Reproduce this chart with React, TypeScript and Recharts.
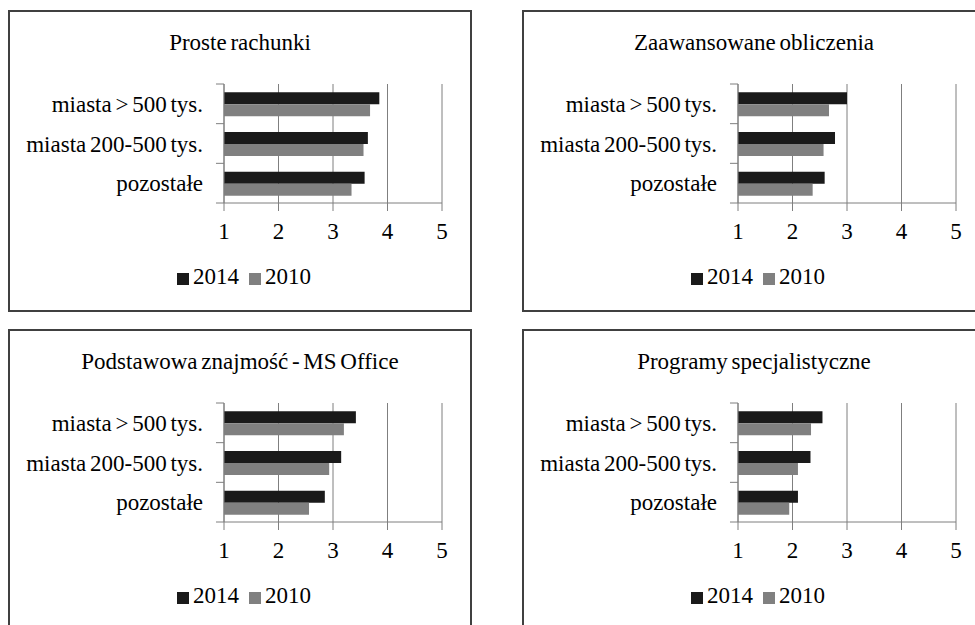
import React from 'react';
import { BarChart, Bar, XAxis, YAxis, CartesianGrid, Legend, ReferenceLine } from 'recharts';

const categories = ['miasta > 500 tys.', 'miasta 200-500 tys.', 'pozostałe'];
const seriesNames = ['2014', '2010'];
const xTicks = [1, 2, 3, 4, 5];

const titleProste = 'Proste rachunki';
const proste2014 = [3.85, 3.64, 3.58];
const proste2010 = [3.68, 3.56, 3.34];

const titleZaaw = 'Zaawansowane obliczenia';
const zaaw2014 = [3.0, 2.78, 2.59];
const zaaw2010 = [2.67, 2.57, 2.37];

const titleOffice = 'Podstawowa znajmość - MS Office';
const office2014 = [3.42, 3.15, 2.85];
const office2010 = [3.2, 2.93, 2.56];

const titleSpec = 'Programy specjalistyczne';
const spec2014 = [2.55, 2.33, 2.1];
const spec2010 = [2.34, 2.1, 1.94];

const FONT = "'Liberation Serif', 'Times New Roman', serif";
const FS = 23;
const AXIS = '#7f7f7f';
const W = 464;
const H = 302;

function Panel({ title, a, b, left, top }: { title: string; a: number[]; b: number[]; left: number; top: number }) {
  const data = categories.map((name, i) => ({ name, s2014: a[i], s2010: b[i] }));
  return (
    <div style={{ position: 'absolute', left, top, width: W, height: H }}>
      <div
        style={{
          position: 'absolute',
          left: 0,
          top: 0,
          width: W,
          height: H,
          border: '2px solid #404040',
          boxSizing: 'border-box',
        }}
      />
      <div
        style={{
          position: 'absolute',
          left: 0,
          top: 19,
          width: W,
          textAlign: 'center',
          fontFamily: FONT,
          fontSize: FS,
          lineHeight: '28px',
          color: '#000',
          wordSpacing: -2,
        }}
      >
        {title}
      </div>
      <div style={{ position: 'absolute', left: 0, top: 0 }}>
        <BarChart
          width={W}
          height={H}
          data={data}
          layout="vertical"
          margin={{ top: 74, right: 30, bottom: 69, left: 8 }}
          barCategoryGap="21%"
          barGap={0}
        >
          <CartesianGrid horizontal={false} stroke={AXIS} strokeDasharray="" />
          <XAxis
            type="number"
            domain={[1, 5]}
            ticks={xTicks}
            height={40}
            tickSize={8}
            tickMargin={12}
            stroke={AXIS}
            axisLine={{ stroke: AXIS }}
            tickLine={{ stroke: AXIS }}
            tick={{ fill: '#000', fontSize: FS, fontFamily: FONT }}
          />
          <YAxis
            type="category"
            dataKey="name"
            width={208}
            tickSize={8}
            tickMargin={13}
            tickLine={false}
            axisLine={{ stroke: AXIS }}
            tick={{ fill: '#000', fontSize: FS, fontFamily: FONT, wordSpacing: -2 }}
          />
          {categories.map((c) => (
            <ReferenceLine
              key={c}
              segment={[
                { x: 0.853, y: c },
                { x: 1, y: c },
              ]}
              position="start"
              ifOverflow="visible"
              stroke={AXIS}
            />
          ))}
          <ReferenceLine
            segment={[
              { x: 0.853, y: categories[categories.length - 1] },
              { x: 1, y: categories[categories.length - 1] },
            ]}
            position="end"
            ifOverflow="visible"
            stroke={AXIS}
          />
          <Legend
            layout="horizontal"
            align="center"
            verticalAlign="middle"
            iconType="square"
            iconSize={12}
            itemSorter={(item: any) => seriesNames.indexOf(String(item.value))}
            wrapperStyle={{ top: 253, left: 9, width: W, fontFamily: FONT, fontSize: FS, lineHeight: '28px' }}
            formatter={(v: string) => <span style={{ color: '#000' }}>{v}</span>}
          />
          <Bar dataKey="s2014" name={seriesNames[0]} fill="#1a1a1a" legendType="square" isAnimationActive={false} />
          <Bar dataKey="s2010" name={seriesNames[1]} fill="#808080" legendType="square" isAnimationActive={false} />
        </BarChart>
      </div>
    </div>
  );
}

export default function App() {
  return (
    <div
      style={{
        position: 'absolute',
        left: 0,
        top: 0,
        width: 975,
        height: 625,
        overflow: 'hidden',
        background: '#fff',
      }}
    >
      <Panel title={titleProste} a={proste2014} b={proste2010} left={8} top={10} />
      <Panel title={titleZaaw} a={zaaw2014} b={zaaw2010} left={522} top={10} />
      <Panel title={titleOffice} a={office2014} b={office2010} left={8} top={329} />
      <Panel title={titleSpec} a={spec2014} b={spec2010} left={522} top={329} />
    </div>
  );
}
